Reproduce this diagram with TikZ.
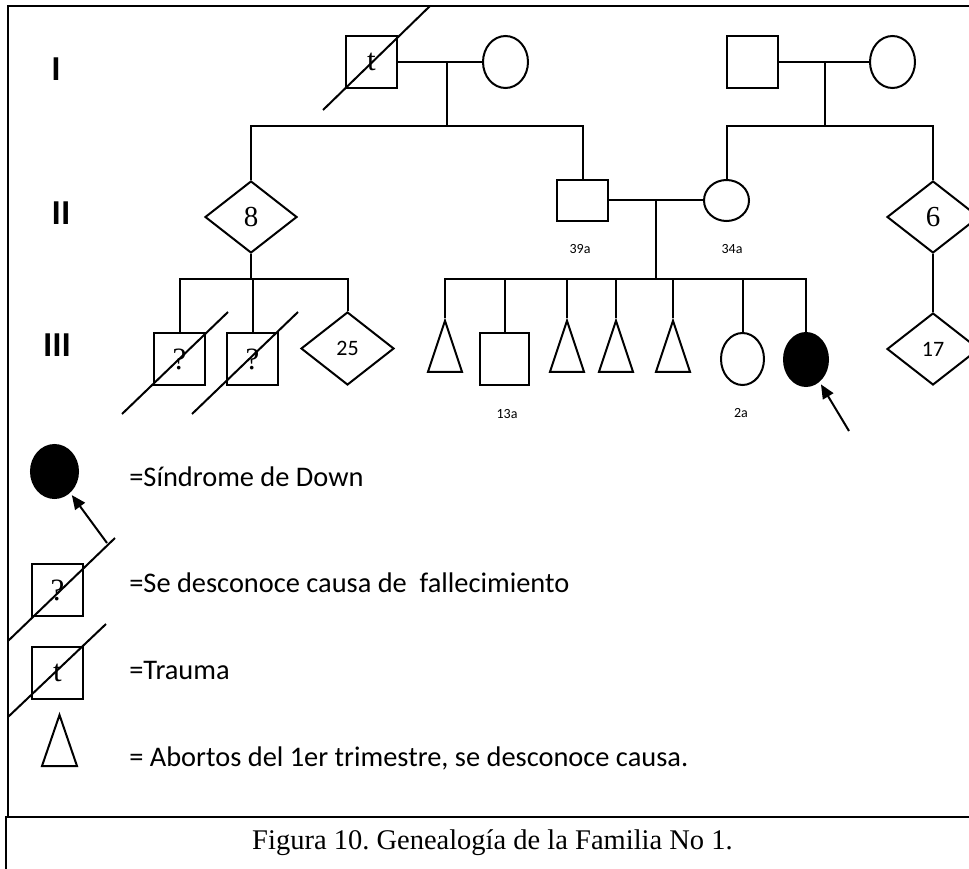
\documentclass[tikz,border=0pt]{standalone}
\usepackage{fontspec}
\setmainfont{Carlito}
\newfontfamily\serifont{Liberation Serif}
\usepackage{tikz}
\usetikzlibrary{shapes.geometric, arrows.meta, positioning}
\frenchspacing
\newcommand{\genfont}{\fontsize{35}{40}\selectfont\bfseries}
\newcommand{\symfont}{\serifont\fontsize{31}{34}\selectfont}
\newcommand{\numfont}{\serifont\fontsize{29}{32}\selectfont}
\newcommand{\cntfont}{\fontsize{22}{26}\selectfont}
\newcommand{\agefont}{\fontsize{14}{16}\selectfont}
\newcommand{\legfont}{\fontsize{28.4}{32}\selectfont}
\newcommand{\capfont}{\serifont\fontsize{28.5}{32}\selectfont}
\tikzstyle{male} = [rectangle, draw, inner sep=0pt, minimum width=51pt, minimum height=52pt]
\tikzstyle{female} = [ellipse, draw, inner sep=0pt, minimum width=45pt, minimum height=52pt]
\tikzstyle{affected} = [female, fill=black]
\tikzstyle{unknown} = [diamond, draw, inner sep=0pt, minimum width=92pt, minimum height=72pt]
\tikzstyle{abortion} = [isosceles triangle, isosceles triangle stretches, shape border rotate=90, draw, inner sep=0pt, minimum width=34pt, minimum height=51pt]
\tikzstyle{gen} = [font=\genfont]
\tikzstyle{agelabel} = [font=\agefont]
\tikzstyle{legtext} = [anchor=west, font=\legfont]
\tikzstyle{pointer} = [-{Triangle[length=14pt,width=12pt]}, shorten >=3pt]

\begin{document}
\begin{tikzpicture}[x=1pt, y=-1pt, line width=2pt]
\useasboundingbox (0,0) rectangle (969,869);
\clip (0,0) rectangle (969,869);
% frame and caption box
\draw [line width=1.5pt] (8,6) rectangle (1000,817);
\draw [line width=1.5pt] (6,817) rectangle (1000,900);

% generations
\node [gen] (g1) at (56,69) {I};
\node [gen] (g2) at (61,213) {II};
\node [gen] (g3) at (57,345) {III};

% generation I
\node [male, font=\symfont] (m1) at (371.5,62) {t};
\node [female] (f1) at (505.5,62) {};
\node [male] (m2) at (752,62) {};
\node [female] (f2) at (892.5,62) {};
\draw (m1) -- (f1);
\draw (m2) -- (f2);
\draw ([shift={(-48.5,48)}]m1.center) -- ([shift={(58.5,-56)}]m1.center);
\coordinate (c1) at (447,62);
\coordinate (s1) at (447,126);
\coordinate (c2) at (825,62);
\coordinate (s2) at (825,126);
\draw (c1) -- (s1);
\draw (c2) -- (s2);

% generation II
\node [unknown, font=\numfont] (u8) at (251,217) {\raisebox{-4pt}{8}};
\node [male, minimum height=41pt] (m3) at (582.5,200.5) {};
\node [female, minimum height=41pt] (f3) at (726.5,200.5) {};
\node [unknown, font=\numfont] (u6) at (933,217) {\raisebox{-4pt}{6}};
\node [agelabel] (l39) at (580,249) {39a};
\node [agelabel] (l34) at (732,249) {34a};
\draw (u8.north) |- (s1) -| (m3.north);
\draw (f3.north) |- (s2) -| (u6.north);
\draw (m3) -- (f3);
\coordinate (c3) at (656,200.5);
\coordinate (s3) at (656,279);
\draw (c3) -- (s3);
\coordinate (s4) at (251,279);
\draw (u8.south) -- (s4);

% generation III
\node [male, font=\symfont] (q1) at (179.5,359) {?};
\node [male, font=\symfont] (q2) at (252.5,359) {?};
\node [unknown, minimum width=93pt, minimum height=73pt, font=\cntfont] (u25) at (347.5,348.5) {25};
\draw (q1.north) |- (s4) -| (u25.north);
\draw (q2.north) -- (q2.north |- s4);
\draw ([shift={(-57.5,55)}]q1.center) -- ([shift={(48.5,-47)}]q1.center);
\draw ([shift={(-60.5,55)}]q2.center) -- ([shift={(45.5,-47)}]q2.center);

\node [abortion] (a1) at (445,359.5) {};
\node [male, minimum width=49pt] (m4) at (504.5,359) {};
\node [abortion] (a2) at (567,359.5) {};
\node [abortion] (a3) at (616,359.5) {};
\node [abortion] (a4) at (673,359.5) {};
\node [female, minimum width=43pt] (f4) at (742.5,359) {};
\node [affected, minimum width=44pt, minimum height=53pt] (p1) at (806,359.5) {};
\node [agelabel] (l13) at (507,414) {13a};
\node [agelabel] (l2) at (741,413) {2a};
\draw (a1.apex) |- (s3) -| (p1.north);
\foreach \k in {m4, a2, a3, a4, f4} {
  \draw (\k.north) -- (\k.north |- s3);
}
\node [unknown, font=\cntfont] (u17) at (933,349) {17};
\draw (u6.south) -- (u17.north);
\coordinate (t1) at (849,431);
\draw [pointer] (t1) -- (p1);

% legend
\node [affected, minimum width=47pt, minimum height=53pt] (lp) at (54.5,471.5) {};
\coordinate (t2) at (107,543);
\draw [pointer] (t2) -- (lp);
\node [male, font=\symfont] (lq) at (57.5,590) {?};
\draw ([shift={(-49.5,51)}]lq.center) -- ([shift={(57.5,-52)}]lq.center);
\node [male, font=\symfont] (lt) at (57.5,672.5) {t};
\draw ([shift={(-49.5,44.5)}]lt.center) -- ([shift={(48.5,-48.5)}]lt.center);
\node [abortion, minimum width=35pt] (la) at (59.5,753.5) {};
\node [legtext] (x1) at (125,477) {=Síndrome de Down};
\node [legtext] (x2) at (125,583) {=Se desconoce causa de\ \ fallecimiento};
\node [legtext] (x3) at (125,670) {=Trauma};
\node [legtext] (x4) at (125,758) {= Abortos del 1er trimestre, se desconoce causa.};

% caption
\node [anchor=east, font=\capfont] (cap) at (737,843) {Figura 10. Genealogía de la Familia No 1.};
\end{tikzpicture}
\end{document}
